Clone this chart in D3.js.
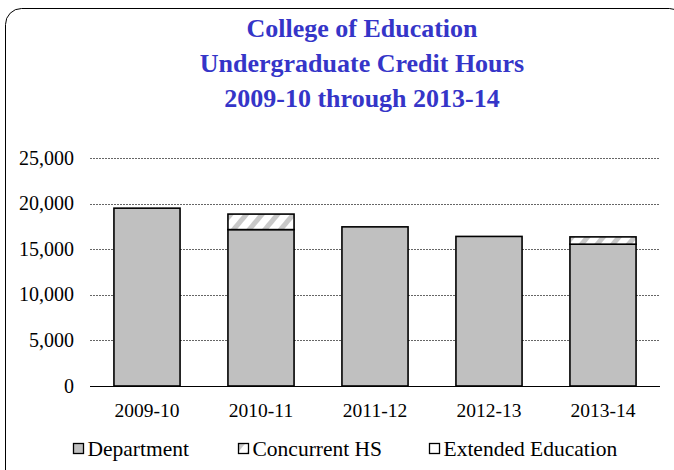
<!DOCTYPE html>
<html><head><meta charset="utf-8">
<script src="https://cdn.jsdelivr.net/npm/d3@7"></script>
<style>body{margin:0;background:#fff}svg{display:block}</style>
</head><body>
<svg id="c" width="674" height="470"></svg>
<script>
const categories = ["2009-10","2010-11","2011-12","2012-13","2013-14"];
const department = [19500, 17150, 17450, 16400, 15550];
const concurrentHS = [0, 1700, 0, 0, 800];
const extendedEducation = [0, 0, 0, 0, 0];
const yTicks = [0,5000,10000,15000,20000,25000];
const seriesNames = ["Department","Concurrent HS","Extended Education"];
const titleLines = ["College of Education","Undergraduate Credit Hours","2009-10 through 2013-14"];

const svg = d3.select("#c");
const font = "'Liberation Serif','Times New Roman',serif";
const defs = svg.append("defs");
const pat = defs.append("pattern").attr("id","stripe").attr("patternUnits","userSpaceOnUse")
  .attr("width",12).attr("height",12).attr("patternTransform","rotate(40)");
pat.append("rect").attr("width",12).attr("height",12).attr("fill","#fff");
pat.append("rect").attr("width",5).attr("height",12).attr("fill","#c8c8c8");

svg.append("rect").attr("x",5.5).attr("y",8.5).attr("width",680).attr("height",480)
  .attr("rx",16).attr("fill","#fff").attr("stroke","#000").attr("stroke-width",1);

const tg = svg.append("g").attr("font-family",font).attr("font-weight","bold")
  .attr("fill","#3535c8").attr("font-size",26).attr("text-anchor","middle");
const titleY = [37,72,106.5];
titleLines.forEach((t,i)=>tg.append("text").attr("x",362).attr("y",titleY[i]).text(t));

const x = d3.scaleBand().domain(categories).range([90,660]).paddingInner(0.42).paddingOuter(0.21);
const y = d3.scaleLinear().domain([0,25000]).range([386,158]);

const grid = svg.append("g");
yTicks.slice(1).forEach(t=>{
  grid.append("line").attr("x1",90).attr("x2",660).attr("y1",Math.round(y(t))+0.5).attr("y2",Math.round(y(t))+0.5)
    .attr("stroke","#666").attr("stroke-width",1).attr("stroke-dasharray","2,1");
});
const yl = svg.append("g").attr("font-family",font).attr("font-size",20).attr("text-anchor","end").attr("fill","#000");
yTicks.forEach(t=>yl.append("text").attr("x",74).attr("y",y(t)+6.5).text(d3.format(",")(t)));

const data = categories.map((c,i)=>({c, d:department[i], h:concurrentHS[i], e:extendedEducation[i]}));
const stack = d3.stack().keys(["d","h","e"])(data);
const fills = ["#c0c0c0","url(#stripe)","#fff"];
stack.forEach((s,k)=>{
  svg.append("g").selectAll("rect").data(s.filter(p=>p[1]-p[0]>0)).join("rect")
    .attr("x",p=>x(p.data.c)).attr("width",x.bandwidth())
    .attr("y",p=>y(p[1])).attr("height",p=>y(p[0])-y(p[1]))
    .attr("fill",fills[k]).attr("stroke","#000").attr("stroke-width",1.6);
});

svg.append("line").attr("x1",90).attr("x2",660).attr("y1",386.5).attr("y2",386.5).attr("stroke","#000").attr("stroke-width",1);

const xl = svg.append("g").attr("font-family",font).attr("font-size",19.5).attr("text-anchor","middle");
categories.forEach(c=>xl.append("text").attr("x",x(c)+x.bandwidth()/2).attr("y",416.5).text(c));

const lg = svg.append("g").attr("font-family",font).attr("font-size",21.5);
const lx = [73,238,429];
const lf = ["#c0c0c0","url(#stripe)","#fff"];
seriesNames.forEach((n,i)=>{
  lg.append("rect").attr("x",lx[i]+0.5).attr("y",443.5).attr("width",10).attr("height",10)
    .attr("fill",lf[i]).attr("stroke","#000").attr("stroke-width",1.3);
  lg.append("text").attr("x",lx[i]+14.5).attr("y",456).text(n);
});
</script>
</body></html>
